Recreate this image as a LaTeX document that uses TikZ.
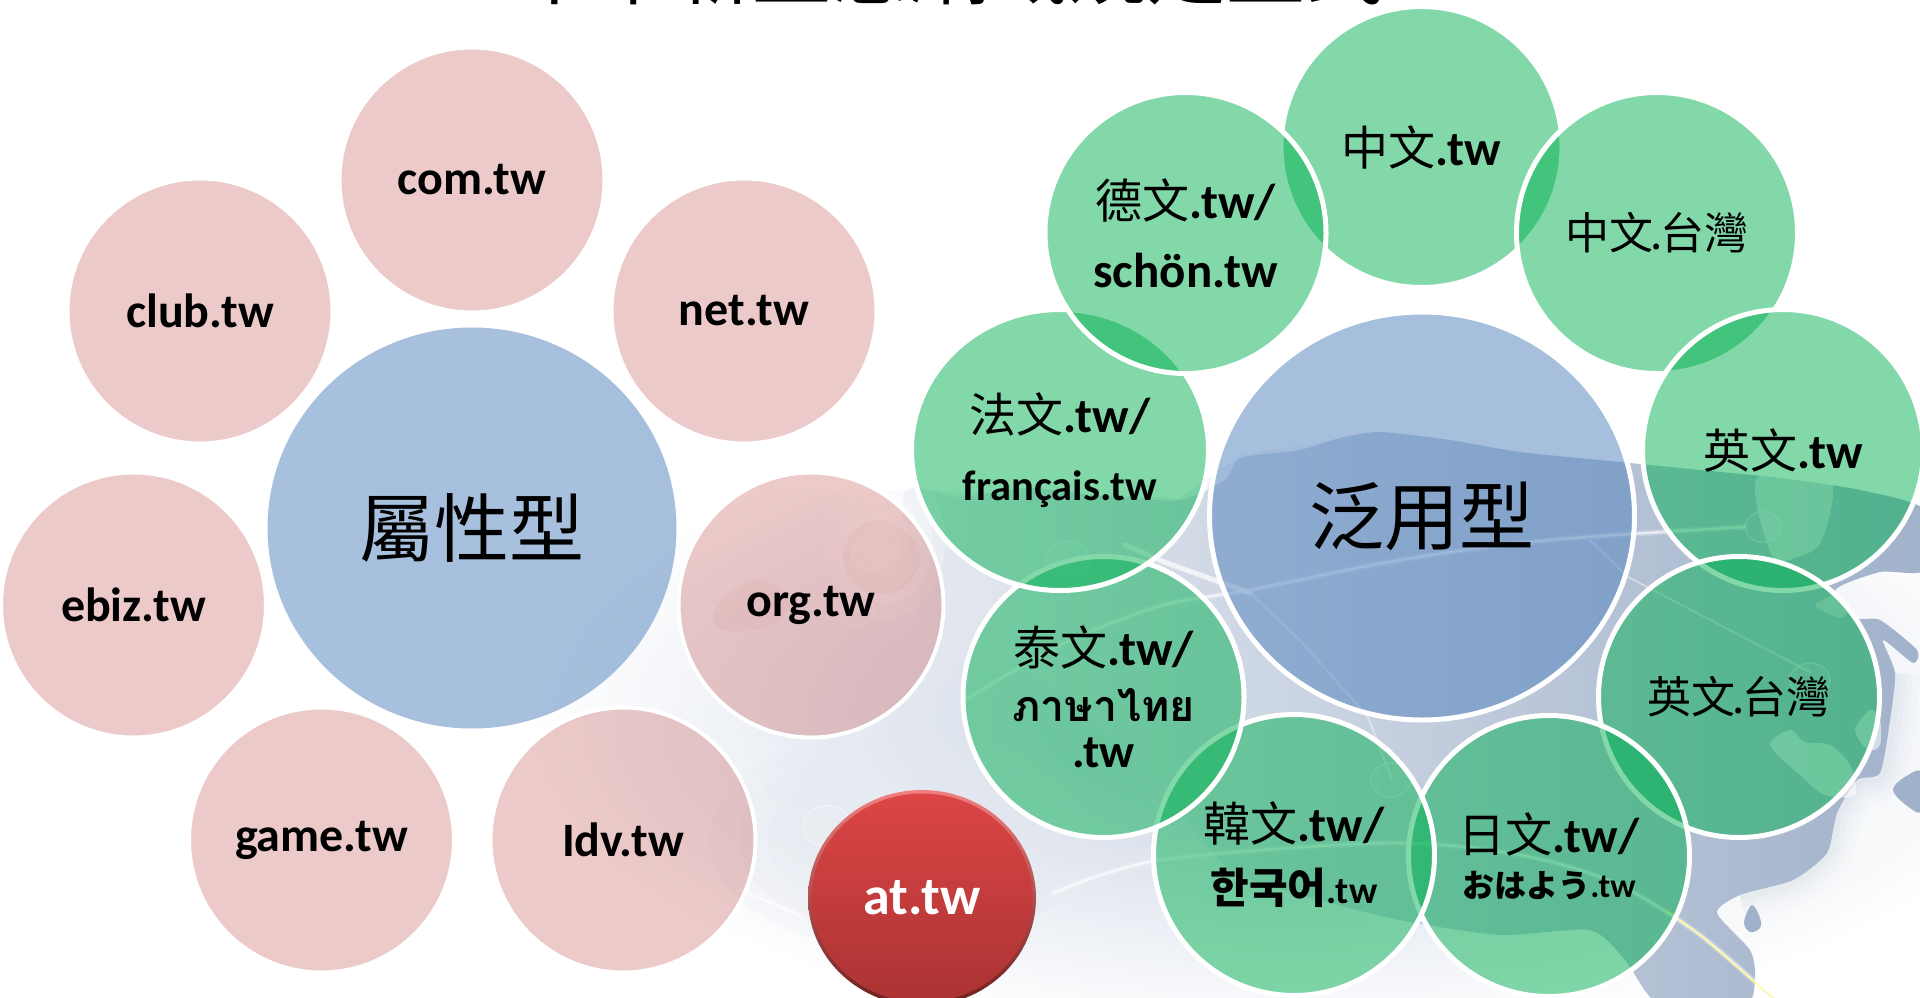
\documentclass[tikz,border=0pt]{standalone}
\usepackage{fontspec}
\usetikzlibrary{shapes.geometric}
\setmainfont{Carlito}
\newfontfamily\tcf{Noto Sans CJK TC}
\newfontfamily\krf{Noto Sans CJK KR}
\newfontfamily\jpf{Noto Sans CJK JP}
\newfontfamily\thf[Script=Thai]{Loma}[BoldFont=Loma Bold]
\newcommand{\La}[2]{{\fontsize{#1}{#1}\selectfont\bfseries #2}}
\newcommand{\Ca}[2]{{\fontsize{#1}{#1}\selectfont\tcf #2}}
\definecolor{pinkc}{HTML}{C0504D}
\definecolor{bluec}{HTML}{4F81BD}
\definecolor{greenc}{HTML}{00B050}
\definecolor{landr}{HTML}{A0B1CA}
\definecolor{landl}{HTML}{E6EAF1}
\definecolor{sea}{HTML}{C4CEDF}
\definecolor{atmain}{HTML}{DC4545}
\definecolor{atlow}{HTML}{AB3333}
\definecolor{rimtop}{HTML}{F08080}
\definecolor{rimlow}{HTML}{6E1E1E}
\tikzset{
  x=1pt,y=-1pt,
  disc/.style={ellipse,inner sep=0pt,outer sep=0pt,align=center,text=black,text opacity=1,draw=white,draw opacity=1},
  pinkdisc/.style={disc,fill=pinkc,fill opacity=.30,line width=4pt,minimum width=265pt,minimum height=265pt},
  bluedisc/.style={disc,fill=bluec,fill opacity=.5,line width=5pt},
  greendisc/.style={disc,fill=greenc,fill opacity=.49,line width=5pt,minimum width=281pt,minimum height=281pt},
  swoosh/.style={draw=white,line cap=round,opacity=.45},
  ring/.style={draw=white,opacity=.35,line width=1.5pt,fill=white,fill opacity=.10},
}
\begin{document}
\begin{tikzpicture}
\useasboundingbox (0,0) rectangle (1920,997);
\clip (0,0) rectangle (1920,997);
% backdrop: faded map
\shade[inner color=sea,outer color=white] (1290,720) ellipse [x radius=760,y radius=320];
\fill[white] (600,0) -- (1920,0) -- (1920,505) -- (1860,490) -- (1700,470) -- (1520,452) -- (1380,432) -- (1240,455) -- (1180,498) -- (1000,492) -- (905,490) -- (600,490) -- cycle;
\foreach \r in {1,.92,.84,.76,.68,.6,.52,.44,.36,.28,.2}
  \fill[white,opacity=.16] (1930,960) ellipse [x radius=260*\r,y radius=170*\r];
\foreach \w/\o in {50/.035,36/.04,24/.05,12/.06}
  \draw[landr,opacity=\o,line width=\w pt,line join=round]
   plot[smooth,tension=.5] coordinates {(1895,673) (1890,720) (1880,773) (1857,780) (1837,813) (1827,853) (1793,880) (1740,895)};
\shade[left color=landl,right color=landr,shading angle=90]
  plot[smooth cycle,tension=.4] coordinates {(905,492) (960,497) (1030,488) (1100,496) (1180,500) (1225,480) (1240,458) (1300,450) (1340,438) (1380,432) (1450,440) (1520,452) (1620,462) (1700,470) (1780,478) (1860,490) (1925,510) (1925,570) (1880,572) (1835,590) (1855,618) (1880,620) (1917,650) (1913,663) (1883,640) (1895,673) (1890,720) (1880,773) (1857,780) (1837,813) (1827,853) (1793,880) (1740,895) (1717,913) (1750,950) (1755,977) (1745,1005) (1660,1005) (1625,960) (1590,930) (1500,935) (1400,920) (1300,895) (1230,870) (1170,800) (1100,730) (1040,680) (960,640) (905,600)};
\foreach \r in {1,.8,.6,.4}
  \fill[white,opacity=.25] (885,540) ellipse [x radius=60*\r,y radius=80*\r];
\fill[landr] plot[smooth cycle,tension=.6] coordinates {(1893,790) (1908,775) (1922,773) (1922,810) (1910,808)};
\fill[landr] plot[smooth cycle,tension=.6] coordinates {(1744,922) (1752,905) (1760,918) (1760,928) (1750,932)};
\fill[white,opacity=.5] plot[smooth cycle,tension=.5] coordinates {(1757,478) (1830,480) (1822,540) (1800,556) (1772,556)};
\fill[white,opacity=.55] plot[smooth cycle,tension=.5] coordinates {(1770,745) (1790,730) (1805,742) (1830,745) (1850,765) (1855,795) (1825,795) (1800,775)};
\fill[white,opacity=.4] plot[smooth cycle,tension=.5] coordinates {(1815,605) (1835,595) (1850,605) (1842,618) (1825,612)};
\fill[white,opacity=.55] plot[smooth cycle,tension=.5] coordinates {(1855,730) (1870,710) (1880,720) (1880,745) (1868,750)};
\fill[pinkc,opacity=.05] plot[smooth cycle,tension=.7] coordinates {(845,545) (880,520) (920,550) (900,590) (855,585)};
\fill[pinkc,opacity=.05] plot[smooth cycle,tension=.7] coordinates {(715,610) (755,580) (790,600) (770,625) (725,630)};
\foreach \r in {1,.85,.7,.55,.4}
  \fill[landl,opacity=.22] (900,840) ellipse [x radius=190*\r,y radius=110*\r];
% light swooshes
\draw[swoosh,line width=6pt,opacity=.22] plot[smooth] coordinates {(965,700) (1060,645) (1160,606) (1250,590) (1400,560) (1550,540) (1745,527)};
\draw[swoosh,line width=2.5pt,opacity=.6] plot[smooth] coordinates {(965,700) (1060,645) (1160,606) (1250,590) (1400,560) (1550,540) (1745,527)};
\draw[swoosh,line width=6pt,opacity=.22] plot[smooth] coordinates {(1053,893) (1160,860) (1388,843) (1520,855) (1615,883) (1700,935) (1775,1000)};
\draw[swoosh,line width=2.5pt,opacity=.6] plot[smooth] coordinates {(1053,893) (1160,860) (1388,843) (1520,855) (1615,883) (1700,935) (1775,1000)};
\draw[yellow!40!white,line width=1.5pt] plot[smooth] coordinates {(1665,910) (1700,935) (1775,1000)};
\draw[swoosh,line width=2pt,opacity=.4] (1590,540) -- (1628,577) -- (1810,672);
\draw[swoosh,line width=5pt,opacity=.7] (1125,545) -- (1167,563) -- (1250,593);
\draw[swoosh,line width=2.5pt,opacity=.35] (1250,593) -- (1300,640) -- (1368,717) -- (1392,780);
\draw[swoosh,line width=3pt,opacity=.6] (740,890) -- (800,915);
\foreach \px/\py/\pr in {1763/527/18,1810/680/20,1391/780/20,1067/560/22,872/553/20,855/609/19,827/826/24,660/900/22}
  \draw[ring] (\px,\py) ellipse [x radius=\pr,y radius=\pr*.85];
% title, cut by the page top
\node[anchor=base,inner sep=0pt] (title) at (950,-2) {\fontsize{79}{79}\selectfont\tcf 中華新型態網域規定型式};
% left cluster
\node[pinkdisc] (com) at (472,180) {\La{48}{com.tw}};
\node[pinkdisc] (club) at (200,311) {\La{48}{club.tw}};
\node[pinkdisc] (net) at (744,311) {\La{48}{net.tw}};
\node[pinkdisc] (ebiz) at (133.5,605) {\La{48}{ebiz.tw}};
\node[pinkdisc] (org) at (811,605) {\La{48}{org.tw}};
\node[pinkdisc] (game) at (321.5,840) {\La{48}{game.tw}};
\node[pinkdisc] (idv) at (623,840) {\La{48}{Idv.tw}};
\node[bluedisc,draw opacity=0,minimum width=409pt,minimum height=401pt] (attr) at (472,528) {\Ca{75}{屬性型}};
% right cluster, clockwise from the top
\node[greendisc] (zhtw) at (1421.5,147) {\Ca{47}{中文}\La{49}{.tw}};
\node[greendisc] (zhtaiwan) at (1657,233) {\Ca{44}{中文\kern-3pt.\kern-3pt台灣}};
\node[greendisc] (entw) at (1783,450) {\Ca{47}{英文}\La{49}{.tw}};
\node[greendisc] (entaiwan) at (1739,697) {\Ca{44}{英文\kern-3pt.\kern-3pt台灣}};
\node[greendisc] (jatw) at (1549,856) {\Ca{47}{日文}\La{49}{.tw/}\\[14pt]{\fontsize{32}{32}\selectfont\jpf\bfseries おはよう}\La{34}{.tw}};
\node[greendisc] (kotw) at (1294,855) {\Ca{47}{韓文}\La{49}{.tw/}\\[22pt]{\fontsize{42}{42}\selectfont\krf\bfseries 한국어}\La{38}{.tw}};
\node[greendisc] (thtw) at (1103.5,697) {\Ca{47}{泰文}\La{49}{.tw/}\\[18pt]{\fontsize{43}{43}\selectfont\thf\bfseries ภาษาไทย}\\[15pt]\La{47}{.tw}};
\node[greendisc,minimum width=297pt] (frtw) at (1060,450) {\Ca{47}{法文}\La{49}{.tw/}\\[34pt]\La{42.5}{français.tw}};
\node[greendisc] (detw) at (1185.5,233) {\Ca{47}{德文}\La{49}{.tw/}\\[30pt]\La{49}{schön.tw}};
\node[bluedisc,minimum width=425pt,minimum height=408pt] (general) at (1422,516) {\Ca{75}{泛用型}};
% at.tw
\node[ellipse,inner sep=0pt,minimum width=228pt,minimum height=216pt,top color=rimtop,bottom color=rimlow] (atrim) at (922,898) {};
\node[ellipse,inner sep=0pt,minimum width=221pt,minimum height=209pt,top color=atmain,bottom color=atlow,text=white] (at) at (922,898) {\La{54}{at.tw}};
\end{tikzpicture}
\end{document}
